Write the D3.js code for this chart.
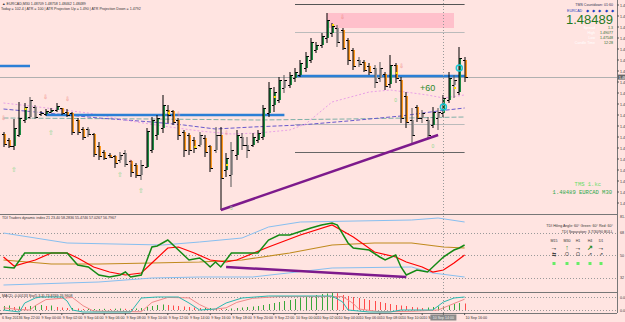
<!DOCTYPE html>
<html>
<head>
<meta charset="utf-8">
<title>EURCAD M30</title>
<script src="https://d3js.org/d3.v7.min.js"></script>
<style>
  body { margin: 0; background: #FFE4E1; }
  text { font-family: "Liberation Sans", Arial, sans-serif; }
</style>
</head>
<body>
<script>

// ---- price bars (EURCAD M30) ----
var barOpen  = [1.4792,1.4786,1.4780,1.4791,1.4806,1.4809,1.4819,1.4812,1.4812,1.4814,1.4816,1.4818,1.4814,1.4813,1.4806,1.4797,1.4797,1.4792,1.4780,1.4774,1.4771,1.4770,1.4766,1.4773,1.4765,1.4761,1.4751,1.4759,1.4776,1.4791,1.4798,1.4816,1.4815,1.4806,1.4794,1.4791,1.4786,1.4781,1.4788,1.4780,1.4776,1.4791,1.4756,1.4751,1.4771,1.4789,1.4781,1.4781,1.4786,1.4789,1.4813,1.4821,1.4826,1.4838,1.4841,1.4848,1.4851,1.4858,1.4866,1.4876,1.4881,1.4888,1.4893,1.4898,1.4896,1.4886,1.4876,1.4866,1.4864,1.4860,1.4858,1.4848,1.4852,1.4842,1.4861,1.4846,1.4830,1.4806,1.4819,1.4808,1.4806,1.4801,1.4808,1.4813,1.4826,1.4841,1.4834,1.4866];
var barHigh  = [1.4794,1.4788,1.4807,1.4824,1.4823,1.4829,1.4821,1.4815,1.4817,1.4818,1.4823,1.4818,1.4817,1.4814,1.4808,1.4799,1.4799,1.4793,1.4784,1.4776,1.4773,1.4771,1.4774,1.4776,1.4766,1.4763,1.4766,1.4798,1.4809,1.4811,1.4831,1.4821,1.4816,1.4808,1.4796,1.4793,1.4789,1.4794,1.4791,1.4781,1.4799,1.4799,1.4773,1.4784,1.4796,1.4793,1.4789,1.4793,1.4796,1.4821,1.4844,1.4839,1.4849,1.4851,1.4854,1.4858,1.4866,1.4874,1.4888,1.4884,1.4893,1.4913,1.4903,1.4901,1.4898,1.4888,1.4878,1.4869,1.4866,1.4863,1.4861,1.4864,1.4854,1.4871,1.4863,1.4849,1.4834,1.4818,1.4821,1.4816,1.4809,1.4819,1.4818,1.4831,1.4854,1.4851,1.4879,1.4869];
var barLow   = [1.4779,1.4778,1.4776,1.4789,1.4803,1.4807,1.4807,1.4810,1.4810,1.4813,1.4814,1.4811,1.4809,1.4791,1.4791,1.4786,1.4789,1.4769,1.4766,1.4766,1.4768,1.4758,1.4763,1.4759,1.4749,1.4748,1.4746,1.4758,1.4773,1.4786,1.4793,1.4803,1.4801,1.4786,1.4769,1.4771,1.4773,1.4779,1.4769,1.4754,1.4773,1.4716,1.4749,1.4739,1.4766,1.4776,1.4768,1.4779,1.4783,1.4786,1.4809,1.4814,1.4823,1.4833,1.4838,1.4844,1.4849,1.4854,1.4863,1.4873,1.4878,1.4883,1.4889,1.4879,1.4876,1.4861,1.4856,1.4859,1.4854,1.4851,1.4838,1.4844,1.4836,1.4838,1.4843,1.4803,1.4798,1.4783,1.4804,1.4803,1.4788,1.4798,1.4796,1.4809,1.4823,1.4828,1.4831,1.4844];
var barClose = [1.4782,1.4780,1.4798,1.4808,1.4819,1.4826,1.4809,1.4813,1.4815,1.4816,1.4820,1.4813,1.4811,1.4794,1.4794,1.4789,1.4792,1.4772,1.4770,1.4768,1.4769,1.4763,1.4771,1.4762,1.4754,1.4751,1.4761,1.4795,1.4806,1.4808,1.4821,1.4811,1.4804,1.4791,1.4776,1.4776,1.4778,1.4791,1.4774,1.4758,1.4791,1.4748,1.4768,1.4776,1.4791,1.4781,1.4776,1.4789,1.4793,1.4818,1.4838,1.4834,1.4846,1.4846,1.4851,1.4854,1.4863,1.4870,1.4884,1.4881,1.4890,1.4906,1.4900,1.4884,1.4878,1.4866,1.4860,1.4862,1.4856,1.4854,1.4844,1.4858,1.4840,1.4861,1.4848,1.4808,1.4804,1.4791,1.4808,1.4813,1.4791,1.4814,1.4814,1.4828,1.4848,1.4846,1.4868,1.48489];
var greyBars = [5,6,16,22,23,26,37,40,43,45,46,53,63,67,70,71,77,79,80,82,85];
var yellowDots = [[4,1.4817],[31,1.4813],[36,1.4779],[42,1.4761],[51,1.4829],[62,1.4901],[74,1.4853],[85,1.4838]];

// moving averages, [bar, price]
var maPink  = [[0,1.4823],[5,1.4820],[16,1.4813],[24,1.4805],[30,1.4800],[37,1.4795],[43,1.4792],[48,1.4793],[54,1.4796],[57,1.4802],[62,1.4824],[69,1.4834],[73,1.4836],[80,1.4831],[83,1.4828],[87,1.4831]];
var maBlue  = [[0,1.4817],[8,1.4813],[18,1.4808],[28,1.4804],[34,1.4801],[40,1.4797],[47,1.4799],[56,1.4801],[65,1.4805],[75,1.4810],[82,1.4815],[87,1.4818]];
var maTeal  = [[0,1.4808],[28,1.4807],[48,1.4806],[65,1.4807],[87,1.4809]];

// levels and objects, [fromBar, toBar, price]
var blueLevels = [[-1,5,1.4860],[8,53,1.4811],[55,87,1.4850]];
var greyLevels = [[55,87,1.4922,"#555"],[55,87,1.4894,"#bbb"],[55,87,1.4802,"#bbb"],[55,87,1.4774,"#666"]];
var zoneBox = [61,85,1.4913,1.4898];
var trendMain = [[41,1.4716],[82,1.4791]];
var upArrows = [[2,1.4757],[9,1.4794],[22,1.4752],[26,1.4736]];
var zeroMarks = [[43,1.4718],[74,1.4826],[81,1.4780]];
var downArrows = [[0,1.4808],[8,1.4829],[12,1.4827],[24,1.4764],[33,1.4812],[42,1.4793],[64,1.4909],[75,1.4860]];
var rings = [[86,1.4858],[83,1.4819]];

var priceTicks = ["1.49210","1.49100","1.48990","1.48880","1.48770","1.48660","1.48550","1.48440","1.48330","1.48220","1.48110","1.48000","1.47890","1.47780","1.47670","1.47560","1.47450","1.47340","1.47230"];
var timeLabels = ["6 Sep 2013","6 Sep 22:00","9 Sep 00:00","9 Sep 02:00","9 Sep 04:00","9 Sep 06:00","9 Sep 08:00","9 Sep 10:00","9 Sep 12:00","9 Sep 14:00","9 Sep 16:00","9 Sep 18:00","9 Sep 20:00","9 Sep 22:00","10 Sep 00:00","10 Sep 02:00","10 Sep 04:00","10 Sep 06:00","10 Sep 08:00","10 Sep 10:00","10 Sep 12:00","10 Sep 14:00","10 Sep 16:00"];
var timeBars = [-0.5,3,7,11,15,19,23,27,31,35,39,43,47,51,55,59,63,67,71,75,79,83,87];
var crossBar = 83, crossLabel = "10 Sep 14:00";

// TDI, [bar, value]
var tdiGreen = [[0,40.4],[2,39.6],[4,51.6],[6,51.6],[11,51.6],[12,51.6],[14,42],[16,40.4],[18,34],[20,32.4],[22,34],[23,36.4],[24,32.4],[26,34],[28,56.4],[29,57.2],[31,62],[33,54],[35,46],[37,47.6],[38,44.4],[39,40.4],[40,44.4],[41,40.4],[43,51.6],[48,51.6],[50,62],[52,66],[54,66],[58,71.6],[60,74],[62,75.6],[63,74],[65,59.6],[66,55.6],[69,54],[71,48.4],[72,46],[74,50],[75,40.4],[76,34],[78,38],[80,36.4],[83,48.4],[85,54],[86,55.6],[87,58]];
var tdiRed   = [[0,48.4],[2,41.2],[6,46],[9,51.6],[12,51.6],[14,47.6],[17,40.4],[20,36.4],[23,34],[26,35.6],[28,43.6],[31,55.6],[33,56.4],[36,51.6],[39,46],[42,44.4],[44,46],[50,56.4],[56,66],[62,74],[66,64.4],[70,52.4],[74,48.4],[76,44.4],[79,40.4],[81,36.4],[83,38],[85,43.6],[87,50]];
var tdiMid   = [[0,46],[9,42.8],[18,42.8],[28,43.6],[37,44.4],[45,46],[54,51.6],[62,58],[70,59.6],[77,59.6],[83,56.4],[87,55.6]];
var tdiUp    = [[0,67.6],[12,59.6],[30,58],[37,60.4],[45,63.6],[50,72.4],[56,76.4],[77,78],[82,79.6],[87,76.4]];
var tdiLow   = [[0,26],[18,28.4],[28,31.6],[37,32.4],[47,32.4],[62,39.6],[77,40.4],[81,35.6],[87,32.4]];
var tdiLevels = [68,50,32];
var trendTdi = [[42,40.4],[76,32.4]];

// lower panel: histogram and stochastic
var hist = [4,4.5,3,3.5,3,4,4.5,5,4,4.5,3,2.5,2,2,1.5,1,1,1,1,1.2,1,1.3,1.5,1.2,1,1.5,2,3,4,5,5.5,5,4.5,4,3.5,3,2.5,2,2,2,1.5,1,1,1.5,2,2.5,3,3.5,4,5,6,7,8,9,10,11,12,13,14,15,16,16.5,17,16.8,15,14,13,12,11,10,9,8,7,6,5,4.5,4,3,2.5,2,2.5,3,3.5,4,5,6,7,6.5];
var stochMain = [[0,20],[3,10.8],[4,52.3],[6,75.4],[7,80],[11,80],[12,61.5],[13,20],[15,10.8],[24,10.8],[26,75.4],[29,80],[33,80],[35,52.3],[37,20],[40,24.6],[42,52.3],[45,75.4],[50,84.6],[62,84.6],[64,56.9],[65,20],[69,10.8],[73,10.8],[75,20],[81,20],[83,56.9],[85,75.4],[87,80]];
var stochSignal = [[0,30],[3,22],[5,20],[6,40],[8,68],[13,78],[15,40],[17,15],[26,12],[28,55],[31,78],[35,76],[37,45],[39,22],[42,30],[44,55],[47,74],[52,82],[64,82],[66,50],[67,25],[71,12],[77,14],[82,20],[85,50],[87,70]];

var W = 625, H = 322, axisX = 617;
var small = "3.6px";

var svg = d3.select("body")
            .append("svg")
            .attr("width", W)
            .attr("height", H)
            .style("display", "block");

svg.append("rect").attr("width", W).attr("height", H).attr("fill", "#FFE4E1");

var x = d3.scaleLinear().domain([0, 87]).range([3.5, 464.6]);
var y = d3.scaleLinear().domain([1.4712, 1.4926]).range([214, 0]);
var yT = d3.scaleLinear().domain([20.4, 81.2]).range([292, 216]);
var yS = d3.scaleLinear().domain([6.2, 98.5]).range([313, 293]);
var yH = d3.scaleLinear().domain([0, 17]).range([310, 293]);

var main = svg.append("g").attr("clip-path", "url(#clipMain)");
svg.append("clipPath").attr("id", "clipMain")
   .append("rect").attr("x", 0).attr("y", 0).attr("width", axisX).attr("height", 214);

// zone box
main.append("rect")
    .attr("x", x(zoneBox[0])).attr("width", x(zoneBox[1]) - x(zoneBox[0]))
    .attr("y", y(zoneBox[2])).attr("height", y(zoneBox[3]) - y(zoneBox[2]))
    .attr("fill", "#FFC0CB");

greyLevels.forEach(function(d) {
    main.append("line")
        .attr("x1", x(d[0])).attr("x2", x(d[1]))
        .attr("y1", Math.round(y(d[2])) + 0.5).attr("y2", Math.round(y(d[2])) + 0.5)
        .attr("stroke", d[3]).attr("stroke-width", 1);
});

// bid line
main.append("line")
    .attr("x1", 0).attr("x2", axisX)
    .attr("y1", Math.round(y(barClose[87])) + 0.5).attr("y2", Math.round(y(barClose[87])) + 0.5)
    .attr("stroke", "#b0b0b0");

// moving averages
var ln = d3.line().x(function(d) { return x(d[0]); }).y(function(d) { return y(d[1]); });
main.append("path").datum(maTeal).attr("d", ln).attr("fill", "none")
    .attr("stroke", "#7fb0a8").attr("stroke-width", 1).attr("stroke-dasharray", "5,2");
main.append("path").datum(maBlue).attr("d", ln).attr("fill", "none")
    .attr("stroke", "#6a5acd").attr("stroke-width", 1).attr("stroke-dasharray", "4,2");
main.append("path").datum(maPink).attr("d", ln).attr("fill", "none")
    .attr("stroke", "#e9a0e6").attr("stroke-width", 1).attr("stroke-dasharray", "2,2");

// blue levels
blueLevels.forEach(function(d) {
    main.append("line")
        .attr("x1", x(d[0])).attr("x2", x(d[1]))
        .attr("y1", y(d[2])).attr("y2", y(d[2]))
        .attr("stroke", "#2b7fd6").attr("stroke-width", 2.5);
});

// bars
var bars = main.selectAll(".bar").data(barOpen).enter().append("g").attr("class", "bar");
bars.each(function(o, i) {
    var g = d3.select(this);
    var cx = Math.round(x(i)) + 0.5;
    var up = barClose[i] >= o;
    var isGrey = greyBars.indexOf(i) >= 0;
    var col = isGrey ? "#a09898" : (up ? "#1f8a43" : "#ff9a22");
    var yo = y(o), yc = y(barClose[i]);
    g.append("rect")
        .attr("x", cx - 0.5).attr("width", 2)
        .attr("y", Math.min(yo, yc)).attr("height", Math.max(1, Math.abs(yo - yc)))
        .attr("fill", col);
    g.append("line").attr("x1", cx - 0.5).attr("x2", cx - 0.5)
        .attr("y1", y(barHigh[i])).attr("y2", y(barLow[i]))
        .attr("stroke", isGrey ? "#555" : "#000").attr("stroke-width", 1);
    g.append("line").attr("x1", cx - 2.5).attr("x2", cx - 0.5)
        .attr("y1", Math.round(yo) + 0.5).attr("y2", Math.round(yo) + 0.5).attr("stroke", "#000");
    g.append("line").attr("x1", cx).attr("x2", cx + 2.5)
        .attr("y1", Math.round(yc) + 0.5).attr("y2", Math.round(yc) + 0.5).attr("stroke", "#000");
});

yellowDots.forEach(function(d) {
    main.append("rect").attr("x", x(d[0])).attr("y", y(d[1]) - 1)
        .attr("width", 2).attr("height", 2).attr("fill", "#ffe000");
});

// trend line
main.append("line")
    .attr("x1", x(trendMain[0][0])).attr("y1", y(trendMain[0][1]))
    .attr("x2", x(trendMain[1][0])).attr("y2", y(trendMain[1][1]))
    .attr("stroke", "#7d1a8c").attr("stroke-width", 2.5);

// markers
upArrows.forEach(function(d) {
    main.append("text").attr("x", x(d[0])).attr("y", y(d[1]) + 3)
        .attr("text-anchor", "middle").style("font-size", "7px").attr("fill", "#8fd88f").text("⇧");
});
zeroMarks.forEach(function(d) {
    main.append("text").attr("x", x(d[0])).attr("y", y(d[1]) + 2)
        .attr("text-anchor", "middle").style("font-size", "5px").attr("fill", "#8fd88f").text("0");
});
downArrows.forEach(function(d) {
    main.append("text").attr("x", x(d[0])).attr("y", y(d[1]) + 2)
        .attr("text-anchor", "middle").style("font-size", "6px").attr("fill", "#f08080").text("⇩");
});
rings.forEach(function(d) {
    main.append("circle").attr("cx", x(d[0])).attr("cy", y(d[1])).attr("r", 3)
        .attr("fill", "none").attr("stroke", "#19c7d6").attr("stroke-width", 1.5);
});
main.append("text").attr("x", 420).attr("y", 91)
    .style("font-size", "9px").attr("fill", "#2c8a2c").text("+60");

// ---- lower panels ----
var tdi = svg.append("g");
tdiLevels.forEach(function(v) {
    tdi.append("line").attr("x1", 0).attr("x2", axisX)
        .attr("y1", Math.round(yT(v)) + 0.5).attr("y2", Math.round(yT(v)) + 0.5)
        .attr("stroke", "#999").attr("stroke-dasharray", "1,2");
});
var lt = d3.line().x(function(d) { return x(d[0]); }).y(function(d) { return yT(d[1]); });
tdi.append("path").datum(tdiUp).attr("d", lt).attr("fill", "none").attr("stroke", "#87bff0");
tdi.append("path").datum(tdiLow).attr("d", lt).attr("fill", "none").attr("stroke", "#87bff0");
tdi.append("path").datum(tdiMid).attr("d", lt).attr("fill", "none").attr("stroke", "#c08a1e").attr("stroke-width", 1.2);
tdi.append("path").datum(tdiRed).attr("d", lt).attr("fill", "none").attr("stroke", "#ff0000").attr("stroke-width", 1.2);
tdi.append("path").datum(tdiGreen).attr("d", lt).attr("fill", "none").attr("stroke", "#148a14").attr("stroke-width", 1.5);
tdi.append("line")
    .attr("x1", x(trendTdi[0][0])).attr("y1", yT(trendTdi[0][1]))
    .attr("x2", x(trendTdi[1][0])).attr("y2", yT(trendTdi[1][1]))
    .attr("stroke", "#7d1a8c").attr("stroke-width", 2.5);

var low = svg.append("g");
[297, 310].forEach(function(v) {
    low.append("line").attr("x1", 0).attr("x2", axisX).attr("y1", v + 0.5).attr("y2", v + 0.5)
        .attr("stroke", "#999").attr("stroke-dasharray", "1,2");
});
hist.forEach(function(v, i) {
    var rising = i === 0 || v >= hist[i - 1];
    low.append("line").attr("x1", Math.round(x(i)) + 0.5).attr("x2", Math.round(x(i)) + 0.5)
        .attr("y1", yH(0)).attr("y2", yH(v))
        .attr("stroke", rising ? "#3aa63a" : "#ff4a4a").attr("stroke-width", 1);
});
var ls = d3.line().x(function(d) { return x(d[0]); }).y(function(d) { return yS(d[1]); });
low.append("path").datum(stochSignal).attr("d", ls).attr("fill", "none").attr("stroke", "#f08a8a");
low.append("path").datum(stochMain).attr("d", ls).attr("fill", "none").attr("stroke", "#2ab8b0");

// crosshair
svg.append("line").attr("x1", Math.round(x(crossBar)) + 0.5).attr("x2", Math.round(x(crossBar)) + 0.5)
    .attr("y1", 0).attr("y2", 313)
    .attr("stroke", "#999").attr("stroke-dasharray", "1,2");

// separators
[214.5, 292.5, 313.5].forEach(function(v) {
    svg.append("line").attr("x1", 0).attr("x2", axisX).attr("y1", v).attr("y2", v).attr("stroke", "#777");
});
svg.append("line").attr("x1", axisX + 0.5).attr("x2", axisX + 0.5).attr("y1", 0).attr("y2", 313)
    .attr("stroke", "#777");

// price axis (labels run past the window edge, as in the screenshot)
priceTicks.forEach(function(t) {
    var yy = y(+t);
    svg.append("line").attr("x1", axisX).attr("x2", axisX + 2).attr("y1", yy).attr("y2", yy).attr("stroke", "#555");
    svg.append("text").attr("x", axisX + 3).attr("y", yy + 1.5)
        .style("font-size", small).attr("fill", "#333").text(t);
});
svg.append("rect").attr("x", axisX + 1).attr("y", y(barClose[87]) - 2.5).attr("width", 8).attr("height", 5).attr("fill", "#666");
svg.append("text").attr("x", axisX + 2).attr("y", y(barClose[87]) + 1.5)
    .style("font-size", small).attr("fill", "#fff").text("1.484");
[["81.2", 81.2], ["68", 68], ["50", 50], ["32", 32]].forEach(function(d) {
    svg.append("text").attr("x", axisX + 3).attr("y", yT(d[1]) + 1.5)
        .style("font-size", small).attr("fill", "#333").text(d[0]);
});
[["0.00", 297], ["0.00", 310]].forEach(function(d) {
    svg.append("text").attr("x", axisX + 3).attr("y", d[1] + 1.5)
        .style("font-size", small).attr("fill", "#333").text(d[0]);
});

// time axis
timeLabels.forEach(function(t, k) {
    var xx = k === 0 ? 1 : x(timeBars[k]);
    svg.append("line").attr("x1", xx).attr("x2", xx).attr("y1", 313).attr("y2", 315).attr("stroke", "#555");
    if (timeBars[k] === crossBar) return;
    svg.append("text").attr("x", xx + 1).attr("y", 319)
        .style("font-size", small).attr("fill", "#333").text(t);
});
svg.append("rect").attr("x", x(crossBar) - 13).attr("y", 314.5).attr("width", 26).attr("height", 6).attr("fill", "#8a8a8a");
svg.append("text").attr("x", x(crossBar)).attr("y", 319).attr("text-anchor", "middle")
    .style("font-size", small).attr("fill", "#eee").text(crossLabel);

// info texts
svg.append("text").attr("x", 2).attr("y", 5).style("font-size", small).attr("fill", "#333")
    .text("▲ EURCAD,M30  1.48709 1.48758 1.48462 1.48489");
svg.append("text").attr("x", 1).attr("y", 10).style("font-size", small).attr("fill", "#333")
    .text("Today = 102.4   |   ATR = 100   |   ATR Projection Up = 1.490   |   ATR Projection Down = 1.4792");
svg.append("text").attr("x", 2).attr("y", 219).style("font-size", small).attr("fill", "#333")
    .text("TDI Traders dynamic index 21 23.40 58.2836 55.4746 57.0267 56.7967");
svg.append("text").attr("x", 2).attr("y", 297).style("font-size", small).attr("fill", "#333")
    .text("MACD -0.00133   Sto(5,3,3) 73.8769 76.9608");

// dashboard top right
svg.append("text").attr("x", 613).attr("y", 6).attr("text-anchor", "end").style("font-size", small).attr("fill", "#335")
    .text("TMS Countdown: 01:60");
svg.append("text").attr("x", 567).attr("y", 12).style("font-size", small).attr("fill", "#1a3fc0").text("EURCAD");
[587, 593, 599, 606, 612].forEach(function(xx) {
    svg.append("text").attr("x", xx).attr("y", 12).attr("text-anchor", "middle")
        .style("font-size", "4px").attr("fill", "#1a3fc0").text("◆");
});
svg.append("text").attr("x", 613).attr("y", 24).attr("text-anchor", "end")
    .style("font-size", "13px").attr("fill", "#1f7a1f").text("1.48489");
[["Spread", "1.3", 29], ["High", "1.49077", 34], ["Low", "1.47548", 39], ["Candle Time", "12:28", 44]].forEach(function(d) {
    svg.append("text").attr("x", 595).attr("y", d[2]).attr("text-anchor", "end")
        .style("font-size", small).attr("fill", "#fff").text(d[0]);
    svg.append("text").attr("x", 613).attr("y", d[2]).attr("text-anchor", "end")
        .style("font-size", small).attr("fill", "#1f6a1f").text(d[1]);
});
svg.append("text").attr("x", 601).attr("y", 186).attr("text-anchor", "end")
    .style("font-family", "Liberation Mono").style("font-size", "5.5px").attr("fill", "#66dd66").text("TMS 1.kc");
svg.append("text").attr("x", 612).attr("y", 194).attr("text-anchor", "end")
    .style("font-family", "Liberation Mono").style("font-size", "5.5px").attr("fill", "#2ea84a").text("1.48489 EURCAD M30");

// TDI dashboard
svg.append("text").attr("x", 613).attr("y", 227).attr("text-anchor", "end").style("font-size", small).attr("fill", "#333")
    .text("TDI Hiling Angle: 60°  Green: 60°  Red: 60°");
svg.append("text").attr("x", 613).attr("y", 233).attr("text-anchor", "end").style("font-size", small).attr("fill", "#333")
    .text("TDI Separation: 3.7/30/90 BULL");
var tfs = ["M15", "M30", "H1", "H4", "D1"];
var tfArrow = ["→", "↑", "→", "↗", "→"];
var tfArrowCol = ["#000", "#1a8a1a", "#000", "#1a8a1a", "#000"];
var tfSym = ["⇆", "O", "O", "⇗", "⇗"];
var tfX = [554, 567, 578, 590, 601];
tfs.forEach(function(t, k) {
    svg.append("text").attr("x", tfX[k]).attr("y", 242).attr("text-anchor", "middle").style("font-size", small).attr("fill", "#333").text(t);
    svg.append("text").attr("x", tfX[k]).attr("y", 250).attr("text-anchor", "middle").style("font-size", "7px")
        .style("font-weight", "bold").attr("fill", tfArrowCol[k]).text(tfArrow[k]);
    svg.append("text").attr("x", tfX[k]).attr("y", 256).attr("text-anchor", "middle").style("font-size", "5px").attr("fill", "#444").text(tfSym[k]);
    svg.append("rect").attr("x", tfX[k] - 1.5).attr("y", 262).attr("width", 3).attr("height", 3).attr("fill", "#66ee66");
});

</script>
</body>
</html>
